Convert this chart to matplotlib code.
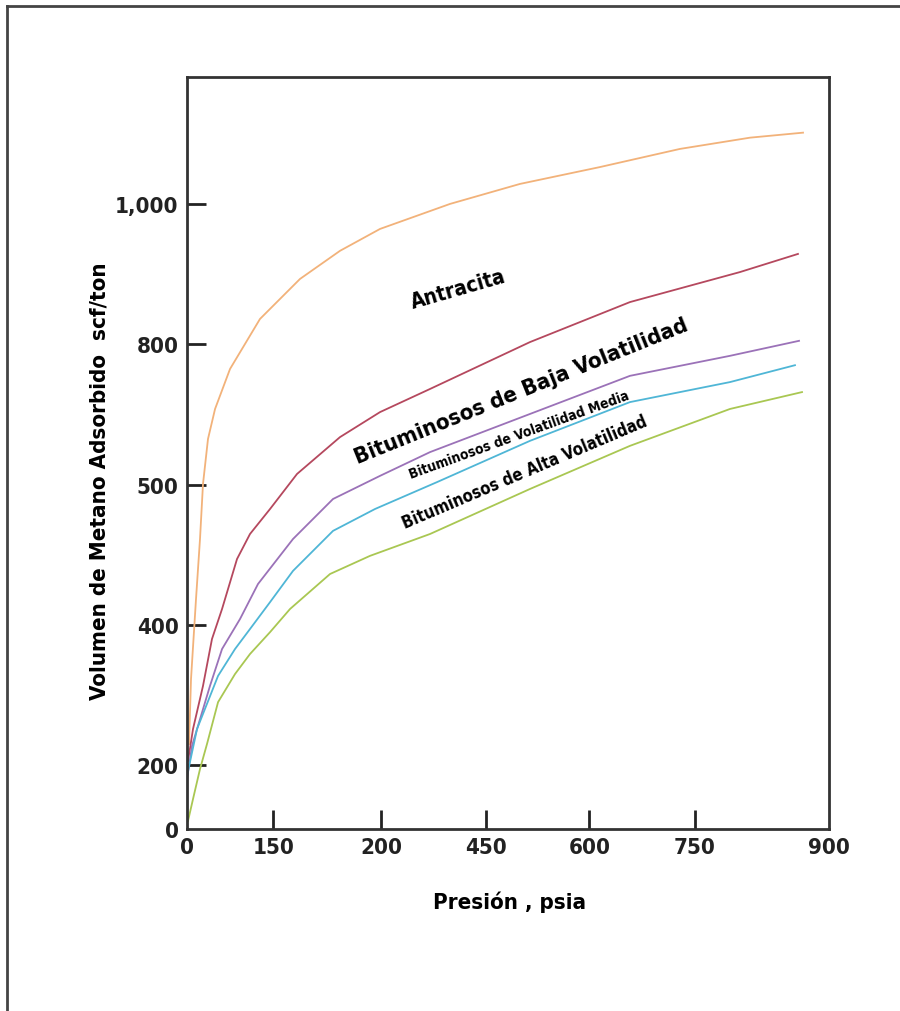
import numpy as np
import matplotlib
matplotlib.use('Agg')
import matplotlib.pyplot as plt
from matplotlib.lines import Line2D

plt.rcParams['font.family'] = ['DejaVu Sans']
plt.rcParams['font.weight'] = 'bold'
plt.rcParams['font.stretch'] = 'condensed'

# 数据（按图上读取，坐标轴为名义线性刻度）
antracita_x = [2.8, 5.6, 12.6, 18.2, 22.4, 29.4, 39.3, 60.3, 102.3, 158.4, 214.5,
               270.6, 368.7, 466.8, 579.0, 691.1, 789.3, 863.6]
antracita_y = [136, 240, 368, 464, 552, 624, 672, 736, 816, 880, 925,
               960, 1000, 1032, 1059, 1088, 1106, 1114]

baja_x = [1.4, 8.4, 22.4, 35.0, 49.1, 70.1, 88.3, 116.4, 154.2, 214.5, 270.6,
          340.7, 480.8, 621.0, 775.2, 856.5]
baja_y = [109, 160, 229, 304, 352, 432, 472, 512, 568, 627, 667,
          704, 779, 843, 891, 920]

media_x = [0.0, 7.0, 32.2, 49.1, 74.3, 99.5, 148.6, 204.7, 270.6, 340.7,
           480.8, 621.0, 761.2, 858.0]
media_y = [80, 133, 229, 288, 336, 392, 464, 528, 565, 603,
           664, 725, 757, 781]

cyan_x = [0.0, 14.0, 43.5, 67.3, 88.3, 116.4, 148.6, 204.7, 263.6, 350.5,
          480.8, 621.0, 761.2, 852.3]
cyan_y = [85, 160, 245, 288, 320, 363, 413, 477, 512, 555,
          621, 683, 715, 742]

alta_x = [1.4, 8.4, 18.2, 28.0, 43.5, 67.3, 88.3, 116.4, 144.4, 200.5, 256.5,
          340.7, 480.8, 621.0, 761.2, 862.2]
alta_y = [13, 48, 96, 136, 203, 248, 280, 315, 352, 408, 437,
          472, 544, 613, 672, 699]

# 刻度（原图刻度标签并不等距，按原样保留）
xtick_pos = [0, 121, 272, 419, 564, 712, 900]
xtick_lab = ['0', '150', '200', '450', '600', '750', '900']
ytick_pos = [0, 102, 326, 550, 776, 1000]
ytick_lab = ['0', '200', '400', '500', '800', '1,000']

fig = plt.figure(figsize=(9, 10.12), dpi=100)
ax = fig.add_axes([0.2078, 0.1798, 0.7133, 0.7431])

lw = 1.3
ax.plot(antracita_x, antracita_y, color='#f2b27a', lw=lw)
ax.plot(baja_x, baja_y, color='#b5485e', lw=lw)
ax.plot(media_x, media_y, color='#9b72b8', lw=lw)
ax.plot(cyan_x, cyan_y, color='#4fb6d6', lw=lw)
ax.plot(alta_x, alta_y, color='#a9c752', lw=lw)

ax.set_xlim(0, 900)
ax.set_ylim(0, 1203)

ax.set_xticks(xtick_pos)
ax.set_xticklabels(xtick_lab)
ax.set_yticks(ytick_pos)
ax.set_yticklabels(ytick_lab)
ax.tick_params(direction='in', length=14, width=2, labelsize=16, colors='#222222', pad=6)
for lab in ax.get_xticklabels() + ax.get_yticklabels():
    lab.set_fontweight('bold')
# 两端不画刻度线
for i, t in enumerate(ax.xaxis.get_major_ticks()):
    if i in (0, len(xtick_pos) - 1):
        t.tick1line.set_visible(False)
ax.yaxis.get_major_ticks()[0].tick1line.set_visible(False)

for s in ax.spines.values():
    s.set_linewidth(2)
    s.set_color('#333333')

ax.set_xlabel('Presión , psia', fontsize=16, fontweight='bold')
ax.set_ylabel('Volumen de Metano Adsorbido  scf/ton', fontsize=16, fontweight='bold')
ax.xaxis.set_label_coords(0.503, -0.082)
ax.yaxis.set_label_coords(-0.12, 0.464)

# 曲线上的标注
ax.text(380, 864, 'Antracita', rotation=16, fontsize=15, fontweight='bold',
        ha='center', va='center')
ax.text(468, 702, 'Bituminosos de Baja Volatilidad', rotation=22, fontsize=16,
        fontweight='bold', ha='center', va='center')
ax.text(466, 631, 'Bituminosos de Volatilidad Media', rotation=20, fontsize=10,
        fontweight='bold', ha='center', va='center')
ax.text(474, 571, 'Bituminosos de Alta Volatilidad', rotation=23, fontsize=12,
        fontweight='bold', ha='center', va='center')

# 外框（只有上边和左边）
fig.add_artist(Line2D([7 / 900, 7 / 900], [0, 1 - 7 / 1012], color='#444444', lw=2))
fig.add_artist(Line2D([7 / 900, 1], [1 - 7 / 1012, 1 - 7 / 1012], color='#444444', lw=2))

fig.savefig('out.png', dpi=100)
